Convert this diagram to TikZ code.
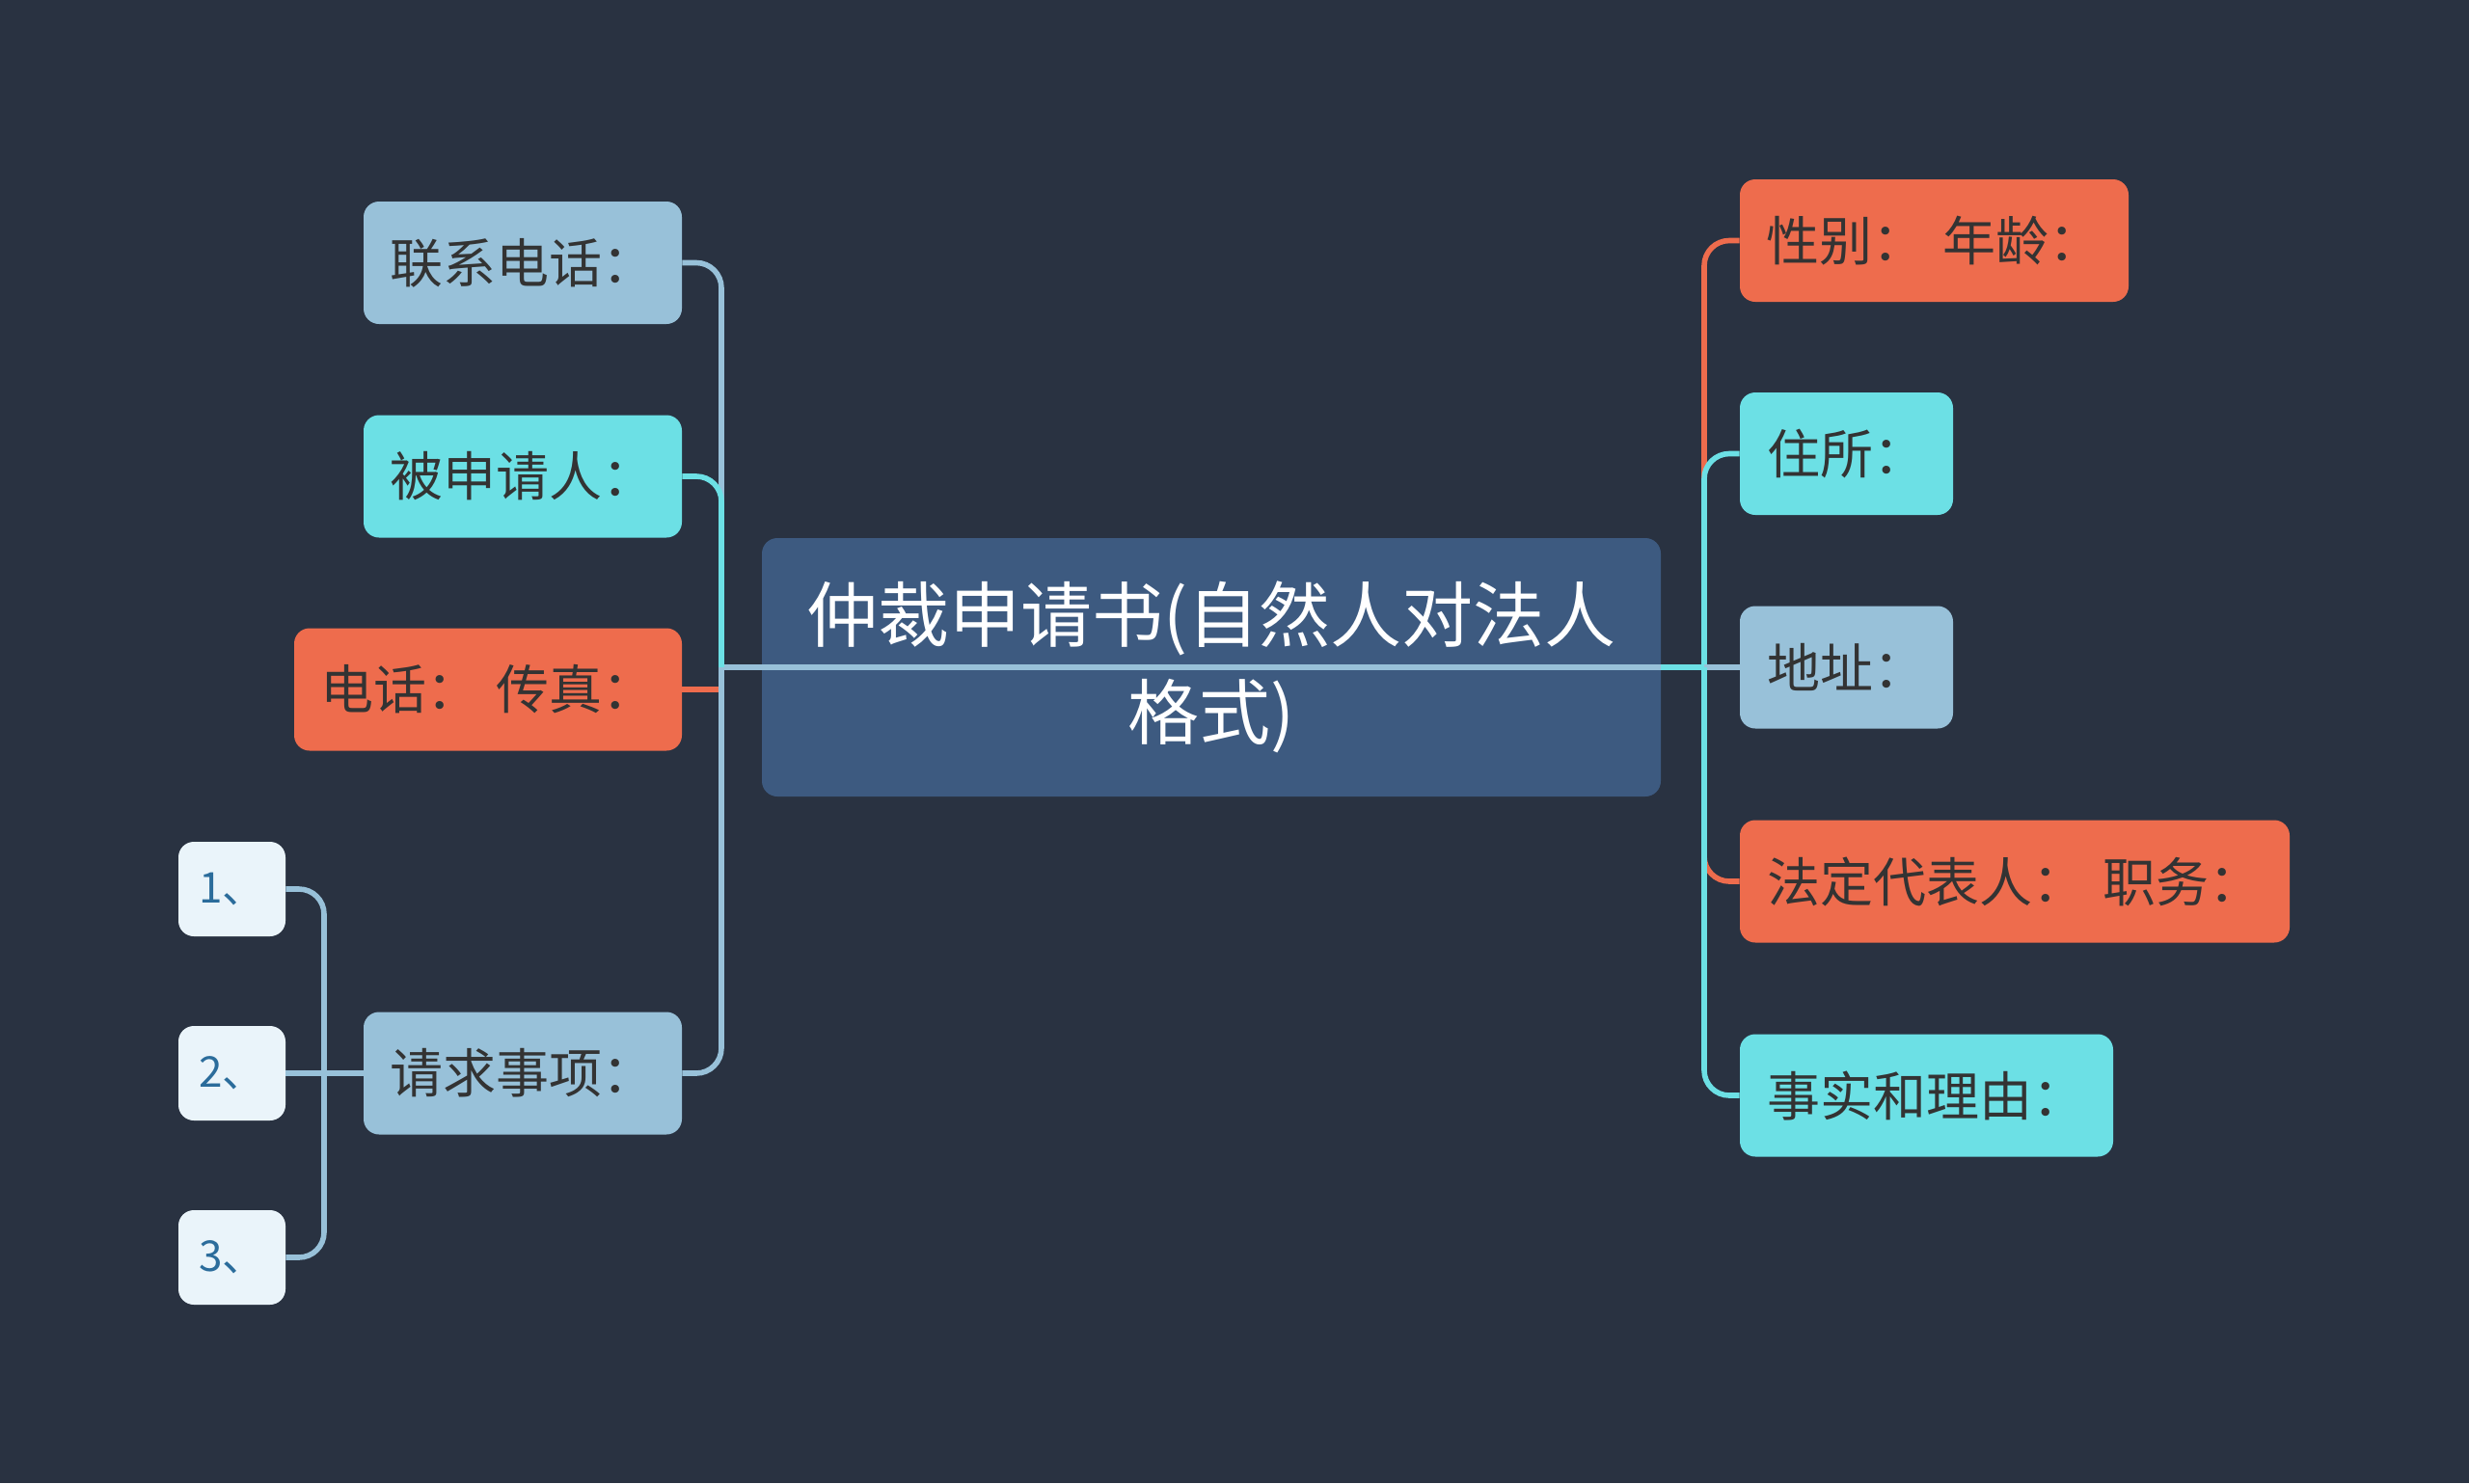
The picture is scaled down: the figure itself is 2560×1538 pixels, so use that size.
\documentclass[tikz,border=0pt]{standalone}
\usepackage{fontspec}
\newfontfamily\cjk{Noto Sans CJK SC}
\definecolor{bg}{HTML}{293241}
\definecolor{cbox}{HTML}{3D5A80}
\definecolor{lb}{HTML}{98C1D9}
\definecolor{cy}{HTML}{6CE0E5}
\definecolor{org}{HTML}{EE6C4D}
\definecolor{sfill}{HTML}{EAF4FA}
\definecolor{stxt}{HTML}{2B6C9B}
\definecolor{txt}{HTML}{333333}
\begin{document}
\begin{tikzpicture}[x=0.5pt,y=-0.5pt,
  box/.style={rounded corners=8pt, inner sep=0pt, text=txt,
    font=\cjk\fontsize{27.5}{32}\selectfont, minimum height=63.5pt},
  sbox/.style={rounded corners=8pt, inner sep=0pt, text=stxt, fill=sfill,
    font=\cjk\fontsize{22}{26}\selectfont, minimum width=55.5pt, minimum height=49pt},
  conn/.style={line width=2.8pt, rounded corners=13pt},
  gap/.style={}]
\fill[bg] (0,0) rectangle (2560,1538);
\useasboundingbox (0,0) rectangle (2560,1538);

% central node
\node[fill=cbox, rounded corners=8pt, minimum width=466pt, minimum height=134pt,
  inner sep=0pt, align=center, text=white, font=\cjk\fontsize{37}{50.5}\selectfont]
  (C) at (1256,692) {仲裁申请书(自然人对法人\\格式)};

% left children
\node[box, fill=lb, minimum width=165pt] (L1) at (542,272.5) {联系电话：};
\node[box, fill=cy, minimum width=165pt] (L2) at (542,494) {被申请人：};
\node[box, fill=org, minimum width=201pt] (L3) at (506,715) {电话：\hspace{0.32em}传真：};
\node[box, fill=lb, minimum width=165pt] (L4) at (542,1113) {请求事项：};

% sub children
\node[sbox] (S1) at (240.5,922) {1、};
\node[sbox] (S2) at (240.5,1113) {2、};
\node[sbox] (S3) at (240.5,1304) {3、};

% right children
\node[box, fill=org, minimum width=201.5pt] (R1) at (2005.5,249.5) {性别：\hspace{0.32em}年龄：};
\node[box, fill=cy, minimum width=110.5pt] (R2) at (1914.5,470.5) {住所：};
\node[box, fill=lb, minimum width=110.5pt] (R3) at (1914.5,692) {地址：};
\node[box, fill=org, minimum width=285pt] (R4) at (2089,914) {法定代表人：\hspace{0.32em}职务：};
\node[box, fill=cy, minimum width=193.5pt] (R5) at (1997.5,1136) {事实和理由：};

% trunk points
\coordinate (tl) at (748,692);
\coordinate (tr) at (1767,692);
\coordinate (ts) at (336,1113);

% root lines
\draw[conn, lb] (C.east) -- (tl);
\draw[conn, cy] (C.east) -- (tr);

% left connectors
\draw[conn, lb] (tl) |- (L1.east);
\draw[conn, cy] (tl) |- (L2.east);
\draw[conn, org] (L3.east) -- (L3.east -| tl);
\draw[conn, lb] (tl) |- (L4.east);

% sub connectors
\draw[conn, lb] (ts) |- (S1.east);
\draw[conn, lb] (L4.west) -- (S2.east);
\draw[conn, lb] (ts) |- (S3.east);

% right connectors
\draw[conn, org] (tr) |- (R1.west);
\draw[conn, cy] (tr) |- (R2.west);
\draw[conn, lb] (tr) -- (R3.west);
\draw[conn, org] (tr) |- (R4.west);
\draw[conn, cy] (tr) |- (R5.west);
\end{tikzpicture}
\end{document}
